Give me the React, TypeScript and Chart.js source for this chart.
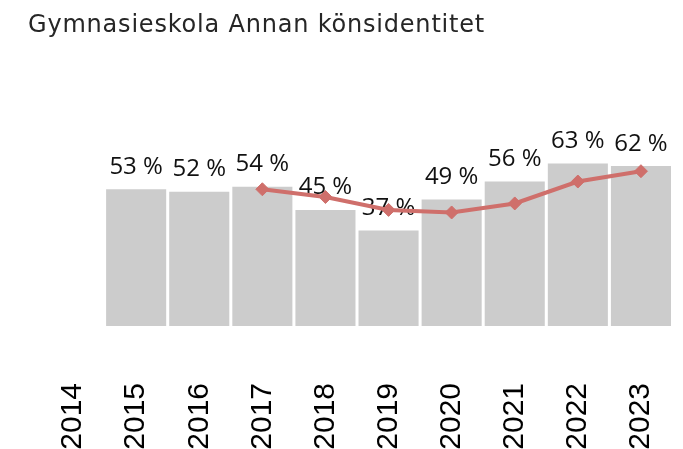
import React, { useEffect, useRef } from "react";
import { Chart, registerables } from "chart.js";

Chart.register(...registerables);

const TITLE = "Gymnasieskola Annan könsidentitet";
const years = ["2014", "2015", "2016", "2017", "2018", "2019", "2020", "2021", "2022", "2023"];
const barValues: (number | null)[] = [null, 53, 52, 54, 45, 37, 49, 56, 63, 62];
const lineValues: (number | null)[] = [null, null, null, 53, 50, 45, 44, 47.5, 56, 60];

const BAR_COLOR = "#cccccc";
const LINE_COLOR = "#cf6f6b";

const titlePlugin = {
  id: "customTitle",
  afterDraw(chart: any) {
    const ctx = chart.ctx as CanvasRenderingContext2D;
    ctx.save();
    (ctx as any).letterSpacing = "0.8px";
    ctx.font = "24px 'DejaVu Sans'";
    ctx.fillStyle = "#262626";
    ctx.textAlign = "left";
    ctx.textBaseline = "alphabetic";
    ctx.fillText(TITLE, 28, 32);
    ctx.restore();
  },
};

const barLabelPlugin = {
  id: "barLabels",
  afterDatasetDraw(chart: any, args: any) {
    if (args.index !== 0) return;
    const ctx = chart.ctx as CanvasRenderingContext2D;
    const meta = chart.getDatasetMeta(0);
    ctx.save();
    ctx.font = "24px 'Open Sans'";
    ctx.fillStyle = "#111111";
    ctx.textAlign = "center";
    ctx.textBaseline = "alphabetic";
    meta.data.forEach((el: any, i: number) => {
      const v = barValues[i];
      if (v === null || v === undefined) return;
      ctx.fillText(`${v} %`, el.x, el.y - 15.5);
    });
    ctx.restore();
  },
};

export default function App() {
  const ref = useRef<HTMLCanvasElement | null>(null);

  useEffect(() => {
    if (!ref.current) return;
    const chart = new Chart(ref.current, {
      type: "bar",
      data: {
        labels: years,
        datasets: [
          {
            type: "bar",
            label: "Andel",
            data: barValues,
            backgroundColor: BAR_COLOR,
            borderWidth: 0,
            barPercentage: 0.952,
            categoryPercentage: 1,
            order: 1,
          },
          {
            type: "line",
            label: "Jämförelse",
            data: lineValues,
            borderColor: LINE_COLOR,
            backgroundColor: LINE_COLOR,
            borderWidth: 4,
            pointStyle: "rectRot",
            pointRadius: 6.5,
            pointBorderWidth: 1,
            pointBackgroundColor: LINE_COLOR,
            pointBorderColor: LINE_COLOR,
            spanGaps: false,
            tension: 0,
            order: 0,
          },
        ],
      } as any,
      options: {
        animation: false,
        responsive: false,
        maintainAspectRatio: false,
        layout: { padding: { left: 41.5, right: 10.5, top: 68, bottom: 0 } },
        plugins: {
          legend: { display: false },
          title: { display: false },
          tooltip: { enabled: false },
        },
        scales: {
          x: {
            type: "category",
            offset: true,
            grid: { display: false, drawTicks: true, tickLength: 57 },
            border: { display: false },
            ticks: {
              minRotation: 90,
              maxRotation: 90,
              autoSkip: false,
              padding: 0,
              color: "#000000",
              font: { family: "'Liberation Sans'", size: 30 },
            },
            afterFit: (s: any) => {
              s.height = 123;
              s.paddingLeft = 0;
              s.paddingRight = 0;
            },
          },
          y: {
            display: false,
            min: 0,
            max: 100,
          },
        },
      } as any,
      plugins: [titlePlugin, barLabelPlugin],
    });
    return () => chart.destroy();
  }, []);

  return (
    <div style={{ position: "fixed", left: 0, top: 0, width: 683, height: 449, background: "#ffffff" }}>
      <canvas ref={ref} width={683} height={449} style={{ display: "block" }} />
    </div>
  );
}
